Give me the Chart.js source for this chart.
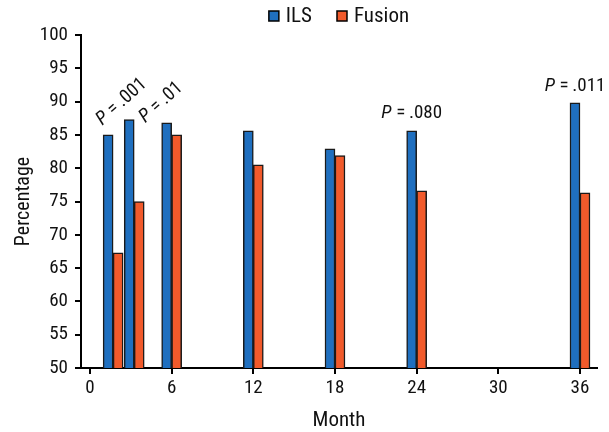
<!DOCTYPE html>
<html>
<head>
<meta charset="utf-8">
<script src="https://cdn.jsdelivr.net/npm/chart.js@4.4.1/dist/chart.umd.min.js"></script>
<style>
  html, body { margin: 0; padding: 0; background: #fff; }
  #wrap { width: 609px; height: 432px; }
</style>
</head>
<body>
<div id="wrap"><canvas id="chart" width="609" height="432"></canvas></div>
<script>
// data
const months = [1.7, 3.25, 6, 12, 18, 24, 36];
const ils = [85.0, 87.3, 86.8, 85.6, 82.9, 85.6, 89.8];
const fusion = [67.3, 75.0, 85.0, 80.5, 81.9, 76.6, 76.3];
const seriesNames = ['ILS', 'Fusion'];
const xTicks = [0, 6, 12, 18, 24, 30, 36];
const yTicks = [50, 55, 60, 65, 70, 75, 80, 85, 90, 95, 100];
const pValues = ['.001', '.01', '.080', '.011'];

const FONT = "'Roboto Condensed', 'Liberation Sans', Arial, sans-serif";
const INK = '#111';

// custom legend, centred over the plot area
const topLegend = {
    id: 'topLegend',
    afterDraw(chart) {
        const { ctx, chartArea } = chart;
        const box = 10, gap = 7, spacing = 25, y = 16;
        ctx.save();
        ctx.font = `21px ${FONT}`;
        const items = chart.data.datasets.map(ds => ({
            label: ds.label,
            color: ds.backgroundColor,
            w: ctx.measureText(ds.label).width
        }));
        const total = items.reduce((s, it) => s + box + gap + it.w, 0) + spacing * (items.length - 1);
        let x = (chartArea.left + chartArea.right) / 2 - total / 2;
        ctx.textBaseline = 'middle';
        ctx.textAlign = 'left';
        items.forEach(it => {
            ctx.fillStyle = it.color;
            ctx.fillRect(x, y - box / 2, box, box);
            ctx.strokeStyle = '#000';
            ctx.lineWidth = 1.5;
            ctx.strokeRect(x, y - box / 2, box, box);
            ctx.fillStyle = INK;
            ctx.fillText(it.label, x + box + gap, y + 1);
            x += box + gap + it.w + spacing;
        });
        ctx.restore();
    }
};

// P value notes, anchored in data units
const pNotes = {
    id: 'pNotes',
    afterDraw(chart, args, opts) {
        const { ctx, scales: { x, y } } = chart;
        ctx.save();
        ctx.fillStyle = INK;
        ctx.textBaseline = 'middle';
        ctx.textAlign = 'left';
        opts.notes.forEach((n, i) => {
            const px = x.getPixelForValue(n.x);
            const py = y.getPixelForValue(n.y);
            ctx.font = `italic 19px ${FONT}`;
            const wP = ctx.measureText('P').width;
            ctx.font = `19px ${FONT}`;
            const rest = '\u2009=\u2009' + pValues[i];
            const wR = ctx.measureText(rest).width;
            ctx.save();
            ctx.translate(px, py);
            ctx.rotate(n.angle * Math.PI / 180);
            const start = -(wP + wR) / 2;
            ctx.font = `italic 19px ${FONT}`;
            ctx.fillText('P', start, 0);
            ctx.font = `19px ${FONT}`;
            ctx.fillText(rest, start + wP + 1, 0);
            ctx.restore();
        });
        ctx.restore();
    }
};

const toPoints = vals => months.map((m, i) => ({ x: m, y: vals[i] }));

new Chart(document.getElementById('chart'), {
    type: 'bar',
    data: {
        datasets: [{
            label: seriesNames[0],
            data: toPoints(ils),
            backgroundColor: '#1f6fbf',
            borderColor: '#1a1a1a',
            borderWidth: 1.5,
            barThickness: 10
        }, {
            label: seriesNames[1],
            data: toPoints(fusion),
            backgroundColor: '#f15a2b',
            borderColor: '#1a1a1a',
            borderWidth: 1.5,
            barThickness: 10
        }]
    },
    options: {
        responsive: false,
        animation: false,
        devicePixelRatio: 1,
        layout: { padding: { top: 35, right: 12, left: 0, bottom: 0 } },
        plugins: {
            legend: { display: false },
            tooltip: { enabled: false },
            pNotes: {
                notes: [
                    { x: 2.3, y: 89.9, angle: -42 },
                    { x: 5.2, y: 89.8, angle: -42 },
                    { x: 23.6, y: 88.3, angle: 0 },
                    { x: 35.6, y: 92.3, angle: 0 }
                ]
            }
        },
        scales: {
            x: {
                type: 'linear',
                min: -0.66,
                max: 37.25,
                offset: false,
                afterBuildTicks: axis => { axis.ticks = xTicks.map(v => ({ value: v })); },
                afterFit: scale => { scale.height = 64; },
                grid: { offset: false, drawOnChartArea: false, drawTicks: true, tickLength: 6, color: '#000', lineWidth: 2 },
                border: { display: true, color: '#000', width: 2 },
                ticks: { color: INK, font: { family: FONT, size: 19 }, padding: 3, maxRotation: 0 },
                title: { display: true, text: 'Month', color: INK, font: { family: FONT, size: 21 }, padding: { top: 0, bottom: -1 } }
            },
            y: {
                min: 50,
                max: 100,
                afterBuildTicks: axis => { axis.ticks = yTicks.map(v => ({ value: v })); },
                afterFit: scale => { scale.width = 81; },
                grid: { drawOnChartArea: false, drawTicks: true, tickLength: 6, color: '#000', lineWidth: 2 },
                border: { display: true, color: '#000', width: 2 },
                ticks: { color: INK, font: { family: FONT, size: 19 }, padding: 7 },
                title: { display: true, text: 'Percentage', color: INK, font: { family: FONT, size: 20 }, padding: { top: 12, bottom: 0 } }
            }
        }
    },
    plugins: [topLegend, pNotes]
});
</script>
</body>
</html>
